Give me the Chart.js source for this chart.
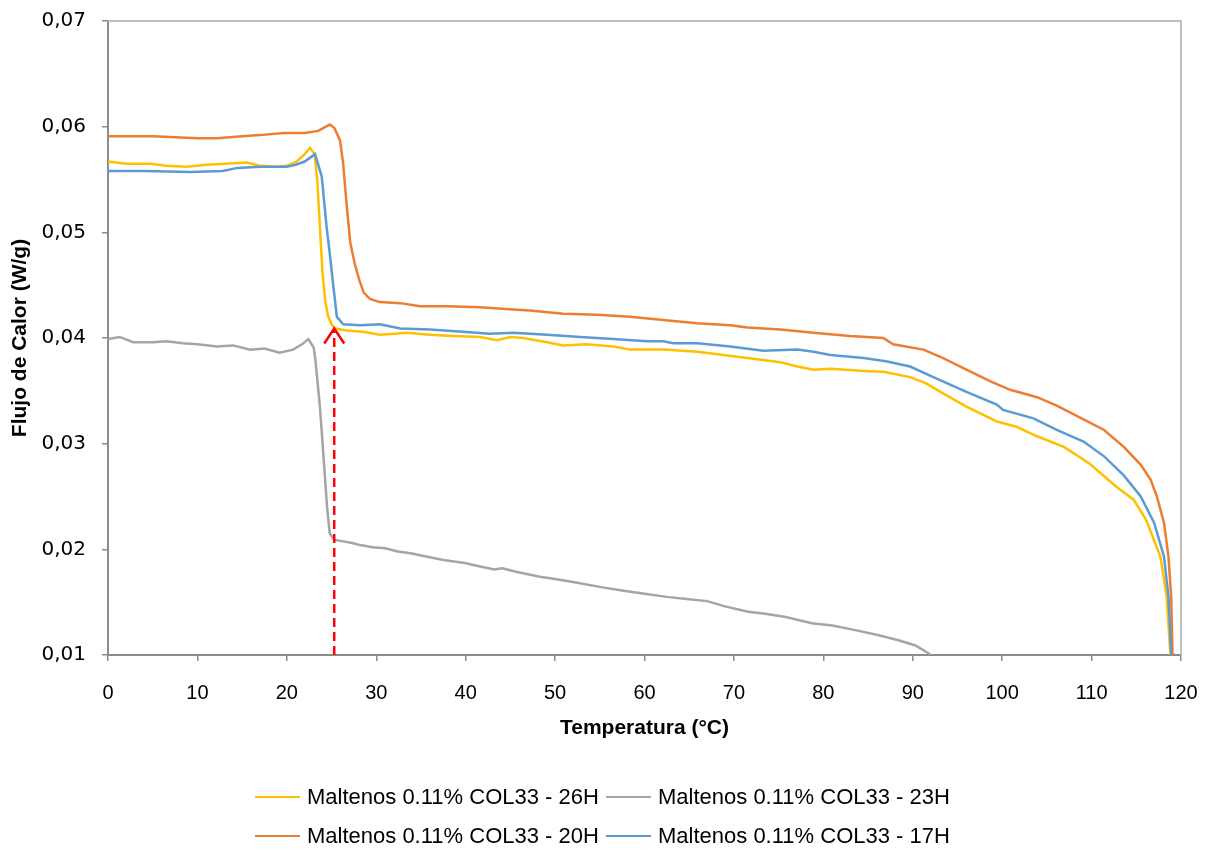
<!DOCTYPE html>
<html>
<head>
<meta charset="utf-8">
<title>Flujo de Calor vs Temperatura</title>
<script src="https://cdn.jsdelivr.net/npm/chart.js@4.4.1/dist/chart.umd.min.js"></script>
<style>
  html, body { margin: 0; padding: 0; background: #ffffff; }
  #wrap { position: relative; width: 1218px; height: 850px; background: #ffffff; }
  #chart { position: absolute; left: 0; top: 0; }
  .legend-item { position: absolute; display: flex; align-items: center; height: 26px;
    font-family: "Liberation Sans", Arial, sans-serif; font-size: 22px; color: #000; white-space: nowrap; }
  .legend-line { width: 45px; height: 0; border-top: 2.5px solid; margin-right: 7px; }
</style>
</head>
<body>
<div id="wrap">
  <canvas id="chart" width="1218" height="850"></canvas>
  <div id="legend"></div>
</div>
<script>
// Series names and colours
const seriesNames = [
  'Maltenos 0.11% COL33 - 26H',
  'Maltenos 0.11% COL33 - 23H',
  'Maltenos 0.11% COL33 - 20H',
  'Maltenos 0.11% COL33 - 17H'
];
const seriesColors = ['#FFC000', '#A5A5A5', '#ED7D31', '#5B9BD5'];

// Axis ticks
const xTicks = [0, 10, 20, 30, 40, 50, 60, 70, 80, 90, 100, 110, 120];
const xTickLabels = ['0', '10', '20', '30', '40', '50', '60', '70', '80', '90', '100', '110', '120'];
const yTicks = [0.01, 0.02, 0.03, 0.04, 0.05, 0.06, 0.07];
const yTickLabels = ['0,01', '0,02', '0,03', '0,04', '0,05', '0,06', '0,07'];

// 26H: temperature (°C) and heat flow (W/g)
const temp26H = [0, 2, 4.7, 6.5, 8.8, 11, 13, 15.5, 17, 18.9, 20, 21.1, 22, 22.6, 23.1, 23.4, 23.6, 23.8, 24.0, 24.3,
  24.6, 25.0, 25.4, 26.7, 28.5, 30.4, 32, 33.4, 36, 38.5, 41.6, 43.5, 45, 46.4, 49.1, 50.9, 53.5, 56.5, 58.4, 62.1,
  65.9, 67.7, 71.5, 75.2, 77.1, 78.9, 80.8, 84.1, 86.7, 89.7, 91.5, 93.1, 96, 99.4, 101.6, 103.9, 106.9, 109.8,
  112.8, 114.7, 116.1, 117.7, 118.4, 118.8, 119.0];
const flux26H = [0.0567, 0.0565, 0.0565, 0.0563, 0.0562, 0.0564, 0.0565, 0.0566, 0.0563, 0.0562, 0.0563, 0.0567, 0.0574, 0.0580, 0.0574, 0.0550, 0.0520, 0.0490, 0.0460, 0.0435,
  0.0421, 0.0413, 0.0409, 0.0407, 0.0406, 0.0403, 0.0404, 0.0405, 0.0403, 0.0402, 0.0401, 0.0398, 0.0401, 0.0400, 0.0396, 0.0393, 0.0394, 0.0392, 0.0389, 0.0389,
  0.0387, 0.0385, 0.0381, 0.0377, 0.0373, 0.0370, 0.0371, 0.0369, 0.0368, 0.0363, 0.0357, 0.0349, 0.0335, 0.0321, 0.0316, 0.0307, 0.0297, 0.0281,
  0.0259, 0.0247, 0.0228, 0.0193, 0.0155, 0.0102, 0.0095];

// 23H
const temp23H = [0, 1.3, 2.8, 5, 6.5, 8.4, 10, 12.2, 14, 15.9, 17.5, 19.2, 20.7, 21.7, 22.4, 23.0, 23.2, 23.7, 24.1, 24.5,
  24.8, 25.3, 26.0, 27.3, 28.2, 29.6, 31.0, 32.4, 34, 35.7, 37.5, 39.9, 41.5, 43.2, 44.1, 45.5, 48.3, 50, 52, 55.3,
  57.5, 60, 62.5, 64.7, 67, 69, 71.6, 73.5, 75.8, 78.7, 81, 83.3, 86.1, 88.4, 90.3, 91.7, 92.2];
const flux23H = [0.0399, 0.0401, 0.0396, 0.0396, 0.0397, 0.0395, 0.0394, 0.0392, 0.0393, 0.0389, 0.0390, 0.0386, 0.0389, 0.0394, 0.0399, 0.0391, 0.0379, 0.0335, 0.0288, 0.0240,
  0.0215, 0.0209, 0.0208, 0.0206, 0.0204, 0.0202, 0.0201, 0.0198, 0.0196, 0.0193, 0.0190, 0.0187, 0.0184, 0.0181, 0.0182, 0.0179, 0.0174, 0.0172, 0.0169, 0.0164,
  0.0161, 0.0158, 0.0155, 0.0153, 0.0151, 0.0146, 0.0141, 0.0139, 0.0136, 0.0130, 0.0128, 0.0124, 0.0119, 0.0114, 0.0109, 0.0102, 0.0098];

// 20H
const temp20H = [0, 5, 10, 12.2, 15, 17, 19.6, 22, 23.5, 24.8, 25.3, 25.95, 26.3, 26.7, 27.1, 27.6, 28.1, 28.6, 29.3, 30.4,
  32.7, 34.9, 37.9, 41.6, 45.3, 47.2, 50.9, 54.7, 58.4, 62.1, 65.9, 69.6, 71.5, 75.2, 78.9, 83, 86.7, 87.8, 91.2, 93.4,
  96, 98.7, 100.9, 103.9, 106.1, 109.1, 111.4, 113.6, 115.5, 116.6, 117.3, 118.1, 118.6, 118.9, 119.05, 119.1];
const flux20H = [0.0591, 0.0591, 0.0589, 0.0589, 0.0591, 0.0592, 0.0594, 0.0594, 0.0596, 0.0602, 0.0599, 0.0587, 0.0565, 0.0525, 0.0490, 0.0470, 0.0455, 0.0443, 0.0437, 0.0434,
  0.0433, 0.0430, 0.0430, 0.0429, 0.0427, 0.0426, 0.0423, 0.0422, 0.0420, 0.0417, 0.0414, 0.0412, 0.0410, 0.0408, 0.0405, 0.0402, 0.0400, 0.0394, 0.0389, 0.0381,
  0.0370, 0.0359, 0.0351, 0.0344, 0.0336, 0.0323, 0.0313, 0.0297, 0.0280, 0.0266, 0.0250, 0.0225, 0.0193, 0.0155, 0.0102, 0.0095];

// 17H
const temp17H = [0, 4, 9.2, 12.8, 14.5, 17, 20, 21, 22, 23.15, 23.9, 24.45, 24.8, 25.2, 25.6, 26.3, 28.2, 30.4, 32.7, 36,
  39.7, 42.7, 45.3, 49.1, 52.8, 56.5, 60.3, 62.1, 63.2, 65.9, 69.6, 73.3, 77.1, 78.9, 80.8, 84.5, 87, 89.7, 92.3, 96,
  99.4, 100.1, 103.5, 106.1, 109.1, 111.4, 113.6, 115.5, 117, 118.1, 118.6, 118.9, 119.0];
const flux17H = [0.0558, 0.0558, 0.0557, 0.0558, 0.0561, 0.0562, 0.0562, 0.0564, 0.0567, 0.0574, 0.0553, 0.0505, 0.0480, 0.0449, 0.0420, 0.0413, 0.0412, 0.0413, 0.0409, 0.0408,
  0.0406, 0.0404, 0.0405, 0.0403, 0.0401, 0.0399, 0.0397, 0.0397, 0.0395, 0.0395, 0.0392, 0.0388, 0.0389, 0.0387, 0.0384, 0.0381, 0.0378, 0.0373, 0.0363, 0.0349,
  0.0337, 0.0332, 0.0324, 0.0313, 0.0302, 0.0288, 0.0270, 0.0250, 0.0225, 0.0193, 0.0155, 0.0102, 0.0095];

// Transition marker: dashed red arrow from the axis up to the step
const markerTemp = [25.3, 25.3];
const markerFlux = [0.01, 0.0409];

const seriesTemps = [temp26H, temp23H, temp20H, temp17H];
const seriesFlux = [flux26H, flux23H, flux20H, flux17H];
const toPoints = (xs, ys) => xs.map((x, i) => ({ x: x, y: ys[i] }));

const datasets = seriesNames.map((name, i) => ({
  label: name,
  data: toPoints(seriesTemps[i], seriesFlux[i]),
  borderColor: seriesColors[i],
  backgroundColor: seriesColors[i],
  borderWidth: 2.5,
  pointRadius: 0,
  tension: 0,
  fill: false,
  order: seriesNames.length - i
}));
datasets.push({
  label: 'marker',
  data: toPoints(markerTemp, markerFlux),
  borderColor: '#FF0000',
  borderWidth: 2.5,
  borderDash: [9, 5],
  pointRadius: 0,
  fill: false,
  order: -1
});

// Open arrowhead at the top end of the marker line, plus the top/right frame
const extras = {
  id: 'extras',
  beforeDatasetsDraw(chart) {
    const { ctx, chartArea: a } = chart;
    ctx.save();
    ctx.strokeStyle = '#BFBFBF';
    ctx.lineWidth = 2;
    ctx.beginPath();
    ctx.moveTo(a.left, a.top);
    ctx.lineTo(a.right, a.top);
    ctx.lineTo(a.right, a.bottom);
    ctx.stroke();
    ctx.restore();
  },
  afterDatasetsDraw(chart) {
    const meta = chart.getDatasetMeta(chart.data.datasets.length - 1);
    const tip = meta.data[meta.data.length - 1];
    const ctx = chart.ctx;
    ctx.save();
    ctx.strokeStyle = '#FF0000';
    ctx.lineWidth = 2.5;
    ctx.lineJoin = 'miter';
    ctx.beginPath();
    ctx.moveTo(tip.x - 10, tip.y + 15);
    ctx.lineTo(tip.x, tip.y);
    ctx.lineTo(tip.x + 10, tip.y + 15);
    ctx.stroke();
    ctx.restore();
  }
};

const axisGray = '#8C8C8C';
const chart = new Chart(document.getElementById('chart'), {
  type: 'line',
  data: { datasets: datasets },
  plugins: [extras],
  options: {
    responsive: false,
    animation: false,
    events: [],
    layout: { padding: { left: 4, top: 21, right: 37, bottom: 105 } },
    plugins: { legend: { display: false }, tooltip: { enabled: false } },
    scales: {
      x: {
        type: 'linear',
        min: 0, max: 120,
        afterBuildTicks: (axis) => { axis.ticks = xTicks.map(v => ({ value: v })); },
        afterFit: (axis) => { axis.height = 90; axis.paddingLeft = 0; axis.paddingRight = 0; },
        ticks: {
          callback: (v, i) => xTickLabels[i],
          color: '#000',
          padding: 20,
          maxRotation: 0,
          font: { family: '"Liberation Sans", Arial, sans-serif', size: 20 }
        },
        grid: { drawOnChartArea: false, drawTicks: true, tickLength: 6, color: axisGray, lineWidth: 1.5 },
        border: { display: true, color: axisGray, width: 2 },
        title: {
          display: true, text: 'Temperatura (°C)', color: '#000',
          font: { family: '"Liberation Sans", Arial, sans-serif', size: 21, weight: 'bold' }
        }
      },
      y: {
        type: 'linear',
        min: 0.01, max: 0.07,
        afterBuildTicks: (axis) => { axis.ticks = yTicks.map(v => ({ value: v })); },
        afterFit: (axis) => { axis.width = 104; axis.paddingTop = 0; axis.paddingBottom = 0; },
        ticks: {
          callback: (v, i) => yTickLabels[i],
          color: '#000',
          padding: 16,
          font: { family: '"DejaVu Sans", sans-serif', size: 20 }
        },
        grid: { drawOnChartArea: false, drawTicks: true, tickLength: 6, color: axisGray, lineWidth: 1.5 },
        border: { display: true, color: axisGray, width: 2 },
        title: {
          display: true, text: 'Flujo de Calor (W/g)', color: '#000',
          font: { family: '"Liberation Sans", Arial, sans-serif', size: 21, weight: 'bold' }
        }
      }
    }
  }
});

// Legend: two rows of two entries below the plot
const legendSlots = [[255, 784], [606, 784], [255, 823], [606, 823]];
const legendOrder = [0, 1, 2, 3];
const legendEl = document.getElementById('legend');
legendOrder.forEach((idx, k) => {
  const item = document.createElement('div');
  item.className = 'legend-item';
  item.style.left = legendSlots[k][0] + 'px';
  item.style.top = legendSlots[k][1] + 'px';
  const line = document.createElement('span');
  line.className = 'legend-line';
  line.style.borderTopColor = seriesColors[idx];
  const text = document.createElement('span');
  text.textContent = seriesNames[idx];
  item.appendChild(line);
  item.appendChild(text);
  legendEl.appendChild(item);
});
</script>
</body>
</html>
